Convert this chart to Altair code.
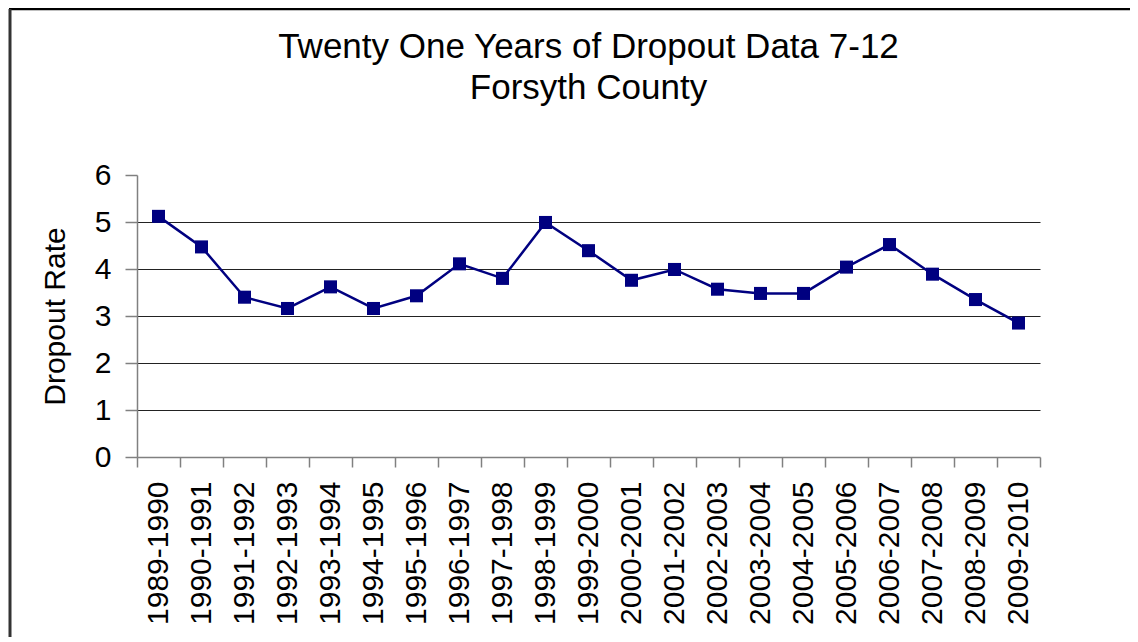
import altair as alt
import pandas as pd

years = ["1989-1990", "1990-1991", "1991-1992", "1992-1993", "1993-1994",
         "1994-1995", "1995-1996", "1996-1997", "1997-1998", "1998-1999",
         "1999-2000", "2000-2001", "2001-2002", "2002-2003", "2003-2004",
         "2004-2005", "2005-2006", "2006-2007", "2007-2008", "2008-2009",
         "2009-2010"]
rates = [5.12, 4.47, 3.40, 3.16, 3.62, 3.16, 3.43, 4.11, 3.80, 4.99,
         4.39, 3.76, 3.99, 3.57, 3.48, 3.48, 4.04, 4.52, 3.89, 3.35, 2.85]
y_ticks = [0, 1, 2, 3, 4, 5, 6]

df = pd.DataFrame({"Year": years, "Rate": rates})

FONT = "Liberation Sans"
NAVY = "#000080"

x_enc = alt.X("Year:O", sort=years, title=None,
              scale=alt.Scale(paddingInner=0, paddingOuter=0),
              axis=alt.Axis(labelAngle=270, labelFontSize=30, labelFont=FONT,
                            labelColor="black", tickBand="extent", tickSize=10,
                            tickColor="#808080", domainColor="#808080",
                            domainWidth=1.5, tickWidth=1.5, labelPadding=14,
                            grid=False))
y_enc = alt.Y("Rate:Q", title="Dropout Rate",
              scale=alt.Scale(domain=[0, 6], nice=False),
              axis=alt.Axis(values=y_ticks, labelFontSize=30, labelFont=FONT,
                            labelColor="black", titleFontSize=30, titleFont=FONT,
                            titleFontWeight="normal", titleColor="black",
                            titlePadding=24, tickSize=12, tickColor="#808080",
                            tickWidth=1.5, domainColor="#808080", domainWidth=1.5,
                            labelPadding=14, grid=True, gridColor="#222222",
                            gridWidth=1.2,
                            gridOpacity={"condition": {"test": "datum.value >= 6 || datum.value <= 0", "value": 0}, "value": 1}))

line = alt.Chart(df).mark_line(color=NAVY, strokeWidth=2.5).encode(x=x_enc, y=y_enc)
pts = alt.Chart(df).mark_point(shape="square", filled=True, color=NAVY,
                               size=170, opacity=1).encode(x=x_enc, y=y_enc)

border_data = alt.Data(values=[{"k": 1}])
top_border = alt.Chart(border_data).mark_rule(color="black", strokeWidth=2.5).encode(
    x=alt.value(-128), x2=alt.value(1000), y=alt.value(-166))
left_border = alt.Chart(border_data).mark_rule(color="#333333", strokeWidth=3).encode(
    x=alt.value(-127), y=alt.value(-166), y2=alt.value(478))

chart = alt.layer(top_border, left_border, line, pts).properties(
    width=903, height=282,
    title=alt.Title(["Twenty One Years of Dropout Data 7-12", "Forsyth County"],
                    fontSize=35, font=FONT, fontWeight="normal", color="black",
                    anchor="middle", lineHeight=41, offset=-98),
    autosize=alt.AutoSizeParams(type="none"),
    padding={"left": 129, "top": 167, "right": 90, "bottom": 180},
).configure(background="white").configure_view(stroke="transparent", strokeWidth=0)

chart.save("out.html", embed_options={"renderer": "svg", "actions": False})
